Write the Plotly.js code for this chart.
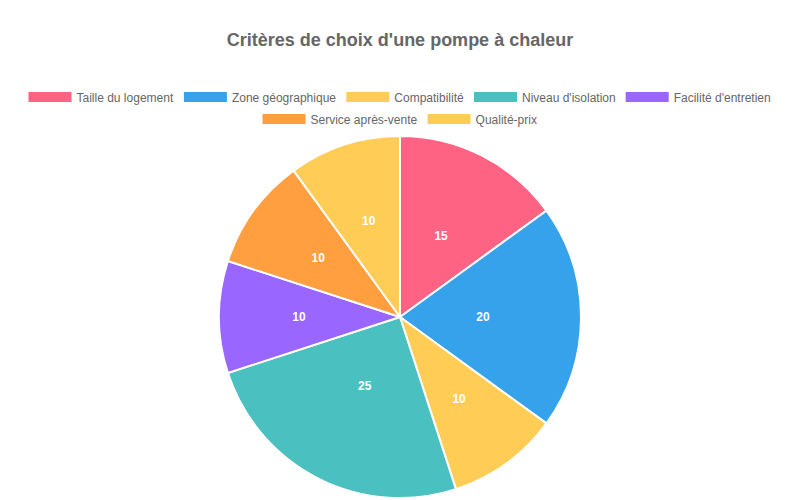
<!DOCTYPE html>
<html>
<head>
<meta charset="utf-8">
<script src="https://cdn.plot.ly/plotly-3.0.1.min.js"></script>
<style>html,body{margin:0;padding:0;background:#fff}#chart{width:800px;height:500px}</style>
</head>
<body>
<div id="chart"></div>
<script>
const labels = ["Taille du logement", "Zone géographique", "Compatibilité", "Niveau d'isolation", "Facilité d'entretien", "Service après-vente", "Qualité-prix"];
const values = [15, 20, 10, 25, 10, 10, 10];
const colors = ["#ff6384", "#36a2eb", "#ffcd56", "#4bc0c0", "#9966ff", "#ff9f40", "#ffcd56"];
const firstRowCount = 5;

const FONT = 'Liberation Sans, Arial, sans-serif';

// main pie (slices)
const pie = {
  type: 'pie',
  labels: labels,
  values: values,
  sort: false,
  direction: 'clockwise',
  rotation: 0,
  marker: {colors: colors, line: {color: '#ffffff', width: 2}},
  textinfo: 'none',
  hoverinfo: 'label+value',
  showlegend: false,
  domain: {x: [0, 1], y: [0, 1]}
};

// transparent inner pie only used to place the value labels nearer the centre
const pieLabels = {
  type: 'pie',
  labels: labels,
  values: values,
  sort: false,
  direction: 'clockwise',
  rotation: 0,
  marker: {colors: labels.map(() => 'rgba(0,0,0,0)'), line: {width: 0}},
  textinfo: 'value',
  textposition: 'inside',
  insidetextorientation: 'horizontal',
  textfont: {family: FONT, size: 12, color: '#ffffff', weight: 'bold'},
  hoverinfo: 'skip',
  showlegend: false,
  domain: {x: [0.335, 0.665], y: [0.135, 0.865]}
};

// legend entries (Chart.js-like wide colour boxes), two centred rows
const legendTraces = labels.map((lab, i) => ({
  type: 'scatter',
  mode: 'lines',
  x: [null], y: [null],
  name: lab,
  line: {color: colors[i], width: 10},
  hoverinfo: 'skip',
  showlegend: true,
  legend: i < firstRowCount ? 'legend' : 'legend2'
}));

const legendCommon = {
  orientation: 'h', x: 0.5, xanchor: 'center', yanchor: 'middle',
  font: {family: FONT, size: 12, color: '#666666'},
  traceorder: 'normal', itemclick: false, itemdoubleclick: false,
  itemwidth: 43,
  bgcolor: 'rgba(0,0,0,0)'
};

const layout = {
  width: 800, height: 500,
  margin: {l: 0, r: 0, t: 136, b: 2, autoexpand: false},
  paper_bgcolor: '#ffffff',
  plot_bgcolor: 'rgba(0,0,0,0)',
  font: {family: FONT, color: '#666666', size: 12},
  title: {
    text: "<b>Critères de choix d'une pompe à chaleur</b>",
    font: {family: FONT, size: 18, color: '#666666'},
    x: 0.5, xanchor: 'center', y: 0.92, yanchor: 'middle', yref: 'container'
  },
  xaxis: {visible: false},
  yaxis: {visible: false},
  showlegend: true,
  legend: Object.assign({}, legendCommon, {y: 1.108}),
  legend2: Object.assign({}, legendCommon, {y: 1.047})
};

Plotly.newPlot('chart', [pie, pieLabels].concat(legendTraces), layout, {displayModeBar: false, staticPlot: true});
</script>
</body>
</html>
